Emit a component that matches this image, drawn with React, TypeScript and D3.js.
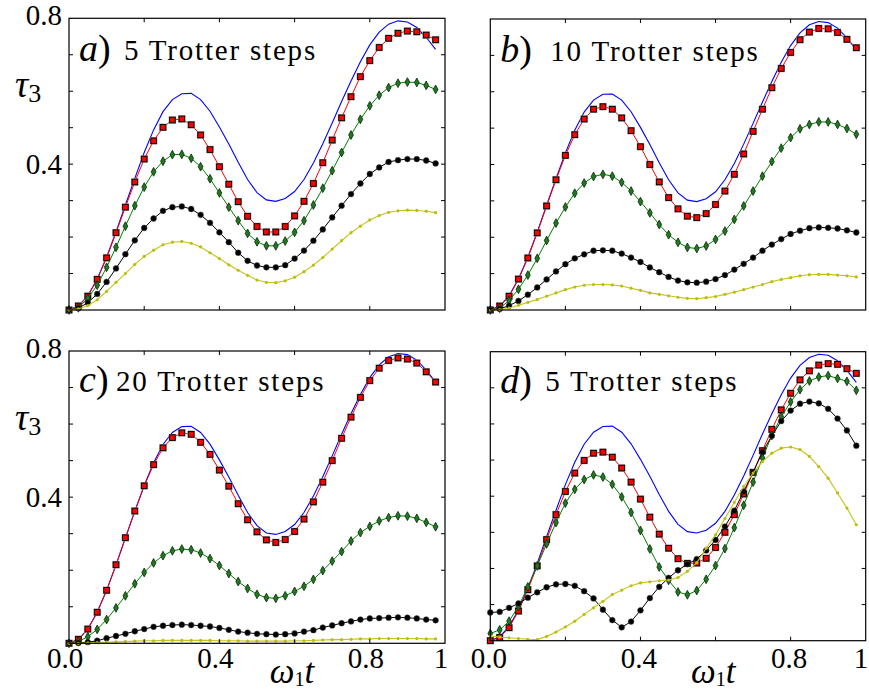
import React from 'react';
import * as d3 from 'd3';

// sampling grid (omega_1 t)
const tGrid = [0, 0.025, 0.05, 0.075, 0.1, 0.125, 0.15, 0.175, 0.2, 0.225, 0.25, 0.275, 0.3, 0.325, 0.35, 0.375, 0.4, 0.425, 0.45, 0.475, 0.5, 0.525, 0.55, 0.575, 0.6, 0.625, 0.65, 0.675, 0.7, 0.725, 0.75, 0.775, 0.8, 0.825, 0.85, 0.875, 0.9, 0.925, 0.95, 0.975];

// exact evolution (blue line, same in every panel)
const exactTau = [0, 0.011, 0.039, 0.085, 0.145, 0.214, 0.288, 0.361, 0.432, 0.494, 0.544, 0.577, 0.593, 0.594, 0.577, 0.545, 0.502, 0.455, 0.405, 0.358, 0.322, 0.302, 0.298, 0.306, 0.325, 0.358, 0.403, 0.456, 0.513, 0.572, 0.628, 0.681, 0.727, 0.762, 0.784, 0.793, 0.790, 0.775, 0.748, 0.715];

// panel a) 5 Trotter steps
const redA = [0, 0.011, 0.038, 0.084, 0.143, 0.212, 0.282, 0.351, 0.414, 0.464, 0.501, 0.521, 0.524, 0.508, 0.480, 0.440, 0.393, 0.345, 0.297, 0.257, 0.229, 0.214, 0.214, 0.229, 0.258, 0.298, 0.347, 0.404, 0.466, 0.527, 0.585, 0.640, 0.684, 0.720, 0.745, 0.759, 0.765, 0.763, 0.754, 0.741];
const greenA = [0, 0.006, 0.032, 0.068, 0.117, 0.172, 0.230, 0.286, 0.337, 0.379, 0.408, 0.426, 0.427, 0.416, 0.393, 0.360, 0.321, 0.282, 0.245, 0.210, 0.187, 0.176, 0.176, 0.189, 0.213, 0.245, 0.288, 0.334, 0.382, 0.432, 0.480, 0.523, 0.560, 0.589, 0.610, 0.622, 0.625, 0.624, 0.616, 0.605];
const blackA = [0, 0.005, 0.020, 0.044, 0.077, 0.114, 0.153, 0.191, 0.225, 0.251, 0.272, 0.282, 0.284, 0.277, 0.261, 0.239, 0.213, 0.186, 0.157, 0.135, 0.122, 0.117, 0.117, 0.123, 0.141, 0.163, 0.190, 0.221, 0.254, 0.286, 0.318, 0.347, 0.373, 0.391, 0.406, 0.411, 0.414, 0.414, 0.410, 0.402];
const yellowA = [0, 0.003, 0.012, 0.028, 0.051, 0.076, 0.100, 0.125, 0.147, 0.164, 0.179, 0.186, 0.188, 0.183, 0.173, 0.157, 0.141, 0.124, 0.109, 0.095, 0.082, 0.076, 0.075, 0.080, 0.090, 0.105, 0.123, 0.144, 0.167, 0.190, 0.212, 0.230, 0.247, 0.259, 0.268, 0.272, 0.274, 0.273, 0.271, 0.267];

// panel b) 10 Trotter steps
const redB = [0, 0.011, 0.038, 0.085, 0.143, 0.212, 0.286, 0.358, 0.425, 0.482, 0.525, 0.552, 0.559, 0.552, 0.528, 0.493, 0.449, 0.400, 0.352, 0.309, 0.278, 0.258, 0.254, 0.265, 0.290, 0.327, 0.373, 0.429, 0.491, 0.552, 0.611, 0.664, 0.708, 0.743, 0.764, 0.774, 0.773, 0.763, 0.744, 0.721];
const greenB = [0, 0.005, 0.026, 0.057, 0.096, 0.142, 0.191, 0.239, 0.283, 0.321, 0.349, 0.367, 0.373, 0.368, 0.351, 0.327, 0.298, 0.267, 0.235, 0.207, 0.186, 0.172, 0.169, 0.176, 0.194, 0.217, 0.249, 0.286, 0.327, 0.368, 0.408, 0.445, 0.474, 0.498, 0.510, 0.517, 0.517, 0.510, 0.499, 0.483];
const blackB = [0, 0.003, 0.012, 0.025, 0.042, 0.062, 0.084, 0.106, 0.126, 0.142, 0.153, 0.163, 0.164, 0.163, 0.155, 0.144, 0.132, 0.117, 0.104, 0.091, 0.081, 0.076, 0.075, 0.078, 0.085, 0.096, 0.111, 0.127, 0.144, 0.163, 0.180, 0.195, 0.209, 0.218, 0.225, 0.227, 0.226, 0.224, 0.219, 0.213];
const yellowB = [0, 0.001, 0.005, 0.013, 0.021, 0.029, 0.038, 0.047, 0.056, 0.063, 0.068, 0.070, 0.070, 0.069, 0.066, 0.060, 0.054, 0.047, 0.043, 0.039, 0.035, 0.032, 0.031, 0.034, 0.037, 0.043, 0.049, 0.056, 0.063, 0.070, 0.078, 0.084, 0.089, 0.094, 0.097, 0.098, 0.098, 0.096, 0.094, 0.091];

// panel c) 20 Trotter steps
const redC = [0, 0.011, 0.039, 0.085, 0.145, 0.215, 0.289, 0.362, 0.431, 0.489, 0.535, 0.563, 0.576, 0.572, 0.550, 0.517, 0.474, 0.430, 0.382, 0.338, 0.305, 0.283, 0.276, 0.284, 0.306, 0.340, 0.387, 0.441, 0.500, 0.561, 0.619, 0.673, 0.719, 0.753, 0.774, 0.781, 0.778, 0.767, 0.743, 0.715];
const greenC = [0, 0.005, 0.018, 0.038, 0.065, 0.097, 0.130, 0.163, 0.194, 0.220, 0.240, 0.253, 0.258, 0.256, 0.247, 0.232, 0.213, 0.191, 0.169, 0.150, 0.134, 0.125, 0.123, 0.130, 0.142, 0.156, 0.175, 0.199, 0.225, 0.251, 0.280, 0.303, 0.320, 0.335, 0.344, 0.349, 0.348, 0.342, 0.331, 0.319];
const blackC = [0, 0.001, 0.003, 0.007, 0.014, 0.020, 0.026, 0.033, 0.039, 0.045, 0.048, 0.050, 0.051, 0.050, 0.048, 0.046, 0.042, 0.037, 0.032, 0.029, 0.026, 0.025, 0.024, 0.025, 0.027, 0.032, 0.036, 0.043, 0.049, 0.055, 0.060, 0.065, 0.068, 0.069, 0.070, 0.071, 0.070, 0.068, 0.065, 0.063];
const yellowC = [0, 0, 0.001, 0.002, 0.003, 0.004, 0.005, 0.006, 0.007, 0.007, 0.008, 0.008, 0.008, 0.008, 0.008, 0.008, 0.007, 0.007, 0.007, 0.006, 0.006, 0.006, 0.006, 0.006, 0.007, 0.007, 0.008, 0.009, 0.010, 0.010, 0.011, 0.012, 0.012, 0.013, 0.013, 0.013, 0.013, 0.013, 0.012, 0.012];

// panel d) 5 Trotter steps
const redD = [0, 0.009, 0.036, 0.082, 0.141, 0.207, 0.280, 0.349, 0.413, 0.464, 0.499, 0.519, 0.522, 0.508, 0.478, 0.439, 0.392, 0.342, 0.295, 0.256, 0.227, 0.214, 0.215, 0.228, 0.258, 0.300, 0.349, 0.406, 0.466, 0.526, 0.585, 0.639, 0.685, 0.722, 0.747, 0.763, 0.767, 0.765, 0.753, 0.740];
const greenD = [0.020, 0.030, 0.054, 0.095, 0.149, 0.207, 0.268, 0.327, 0.381, 0.419, 0.446, 0.459, 0.453, 0.433, 0.398, 0.355, 0.305, 0.254, 0.204, 0.167, 0.135, 0.127, 0.139, 0.170, 0.208, 0.255, 0.313, 0.375, 0.439, 0.506, 0.568, 0.620, 0.661, 0.695, 0.719, 0.730, 0.734, 0.726, 0.718, 0.693];
const blackD = [0.078, 0.080, 0.091, 0.103, 0.119, 0.134, 0.148, 0.156, 0.157, 0.152, 0.137, 0.117, 0.086, 0.057, 0.037, 0.053, 0.084, 0.118, 0.149, 0.174, 0.195, 0.212, 0.226, 0.250, 0.279, 0.316, 0.360, 0.413, 0.466, 0.522, 0.567, 0.608, 0.637, 0.656, 0.662, 0.657, 0.642, 0.615, 0.582, 0.540];
const yellowD = [0.013, 0.010, 0.008, 0.006, 0.004, 0.003, 0.012, 0.024, 0.038, 0.054, 0.073, 0.091, 0.109, 0.128, 0.140, 0.152, 0.160, 0.163, 0.166, 0.168, 0.175, 0.192, 0.216, 0.256, 0.293, 0.338, 0.383, 0.427, 0.464, 0.496, 0.519, 0.533, 0.536, 0.529, 0.510, 0.482, 0.450, 0.409, 0.367, 0.321];

const panelLetters = ['a', 'b', 'c', 'd'];
const trotterSteps = ['5', '10', '20', '5'];
const squareSeries = [redA, redB, redC, redD];
const diamondSeries = [greenA, greenB, greenC, greenD];
const circleSeries = [blackA, blackB, blackC, blackD];
const dotSeries = [yellowA, yellowB, yellowC, yellowD];

const yTickLabelValues = [0.4, 0.8];
const yTickLabelText = ['0.4', '0.8'];
const xTickLabelValues = [0, 0.4, 0.8, 1];
const xTickLabelText = ['0.0', '0.4', '0.8', '1'];

const FRAMES = [
  { x0: 69, x1: 445, y0: 18.3, y1: 310 },
  { x0: 490.3, x1: 865.7, y0: 19, y1: 310 },
  { x0: 69, x1: 445, y0: 351, y1: 643.3 },
  { x0: 490.3, x1: 865.7, y0: 351.7, y1: 640.7 },
];

const SERIF = '"Liberation Serif", "Times New Roman", serif';
const DIAMOND = 'M0,-4.4L2.4,0L0,4.4L-2.4,0Z';

function Panel({ index }: { index: number }) {
  const f = FRAMES[index];
  const col = index % 2;
  const row = Math.floor(index / 2);
  const x = d3.scaleLinear().domain([0, 1]).range([f.x0, f.x1]);
  const y = d3.scaleLinear().domain([0, 0.8]).range([f.y1, f.y0]);
  const line = d3
    .line<number>()
    .x((_, i) => x(tGrid[i]))
    .y((v) => y(v));

  const xTicks = x.ticks(5).filter((v) => v > 0 && v < 1);
  const yTicks = y.ticks(8).filter((v) => v > 0.001 && v < 0.799);
  const tl = 4;

  const reds = squareSeries[index];
  const greens = diamondSeries[index];
  const blacks = circleSeries[index];
  const yellows = dotSeries[index];

  const captionBase = f.y0 + (row === 0 ? 41.5 : 39.5);
  const xLabelShift = col === 0 ? -4 : -1.5;

  return (
    <g>
      {/* exact */}
      <path d={line(exactTau) || ''} fill="none" stroke="#0000ff" strokeWidth={1.1} />

      {/* red squares */}
      <path d={line(reds) || ''} fill="none" stroke="#ff0000" strokeWidth={1} />
      {reds.map((v, i) => (
        <g key={'r' + i} transform={`translate(${x(tGrid[i])},${y(v)})`}>
          <rect x={-3.7} y={-3.7} width={7.4} height={7.4} fill="#8c8c8c" />
          <rect x={-2.8} y={-2.8} width={5.6} height={5.6} fill="#ff0000" stroke="#000" strokeWidth={0.9} />
        </g>
      ))}

      {/* green diamonds */}
      <path d={line(greens) || ''} fill="none" stroke="#008000" strokeWidth={1} />
      {greens.map((v, i) => (
        <path
          key={'g' + i}
          d={DIAMOND}
          transform={`translate(${x(tGrid[i])},${y(v)})`}
          fill="#1f7a1f"
          stroke="#0a260a"
          strokeWidth={0.8}
        />
      ))}

      {/* black circles */}
      <path d={line(blacks) || ''} fill="none" stroke="#000" strokeWidth={1} />
      {blacks.map((v, i) => (
        <circle key={'k' + i} cx={x(tGrid[i])} cy={y(v)} r={2.9} fill="#000" stroke="#444" strokeWidth={0.5} />
      ))}

      {/* yellow dots */}
      <path d={line(yellows) || ''} fill="none" stroke="#c4c41a" strokeWidth={1.1} />
      {yellows.map((v, i) => (
        <circle key={'y' + i} cx={x(tGrid[i])} cy={y(v)} r={1.6} fill="#bdbd10" />
      ))}

      {/* frame */}
      <rect x={f.x0} y={f.y0} width={f.x1 - f.x0} height={f.y1 - f.y0} fill="none" stroke="#000" strokeWidth={1.2} />
      {xTicks.map((v) => (
        <g key={'xt' + v}>
          <line x1={x(v)} x2={x(v)} y1={f.y1} y2={f.y1 - tl} stroke="#000" strokeWidth={1} />
          <line x1={x(v)} x2={x(v)} y1={f.y0} y2={f.y0 + tl} stroke="#000" strokeWidth={1} />
        </g>
      ))}
      {yTicks.map((v) => (
        <g key={'yt' + v}>
          <line x1={f.x0} x2={f.x0 + tl} y1={y(v)} y2={y(v)} stroke="#000" strokeWidth={1} />
          <line x1={f.x1} x2={f.x1 - tl} y1={y(v)} y2={y(v)} stroke="#000" strokeWidth={1} />
        </g>
      ))}

      {/* y tick labels */}
      {col === 0 &&
        yTickLabelValues.map((v, i) => (
          <text
            key={'yl' + i}
            x={f.x0 - 7}
            y={y(v) + (v > 0.7 ? 7 : 9.5)}
            textAnchor="end"
            fontFamily={SERIF}
            fontSize={29}
            fill="#000"
          >
            {yTickLabelText[i]}
          </text>
        ))}
      {col === 0 && (
        <text x={15} y={f.y0 + 79} fontFamily={SERIF} fill="#000">
          <tspan fontStyle="italic" fontSize={37}>τ</tspan>
          <tspan fontSize={26} dy={5}>3</tspan>
        </text>
      )}

      {/* x tick labels */}
      {row === 1 &&
        xTickLabelValues.map((v, i) => (
          <text
            key={'xl' + i}
            x={Math.min(x(v) + xLabelShift, 861)}
            y={668}
            textAnchor="middle"
            fontFamily={SERIF}
            fontSize={29}
            fill="#000"
          >
            {xTickLabelText[i]}
          </text>
        ))}
      {row === 1 && (
        <text x={f.x0 + 223} y={683} textAnchor="middle" fontFamily={SERIF} fill="#000">
          <tspan fontStyle="italic" fontSize={35}>ω</tspan>
          <tspan fontSize={20} dy={3}>1</tspan>
          <tspan fontStyle="italic" fontSize={35} dy={-3}>t</tspan>
        </text>
      )}

      {/* panel caption */}
      <text x={f.x0 + 10} y={captionBase + 1.5} fontFamily={SERIF} fill="#000">
        <tspan fontStyle="italic" fontSize={38}>{panelLetters[index]}</tspan>
        <tspan fontSize={38}>)</tspan>
      </text>
      <text
        x={f.x0 + (index === 2 ? 47 : index === 1 ? 60 : 55)}
        y={captionBase}
        fontFamily={SERIF}
        fontSize={29}
        letterSpacing={1.8}
        fill="#000"
      >
        {trotterSteps[index] + ' Trotter steps'}
      </text>
    </g>
  );
}

export default function App() {
  return (
    <svg
      width={869}
      height={694}
      viewBox="0 0 869 694"
      style={{ position: 'absolute', left: 0, top: 0, background: '#fff' }}
    >
      <rect x={0} y={0} width={869} height={694} fill="#fff" />
      {[0, 1, 2, 3].map((i) => (
        <Panel key={i} index={i} />
      ))}
    </svg>
  );
}
